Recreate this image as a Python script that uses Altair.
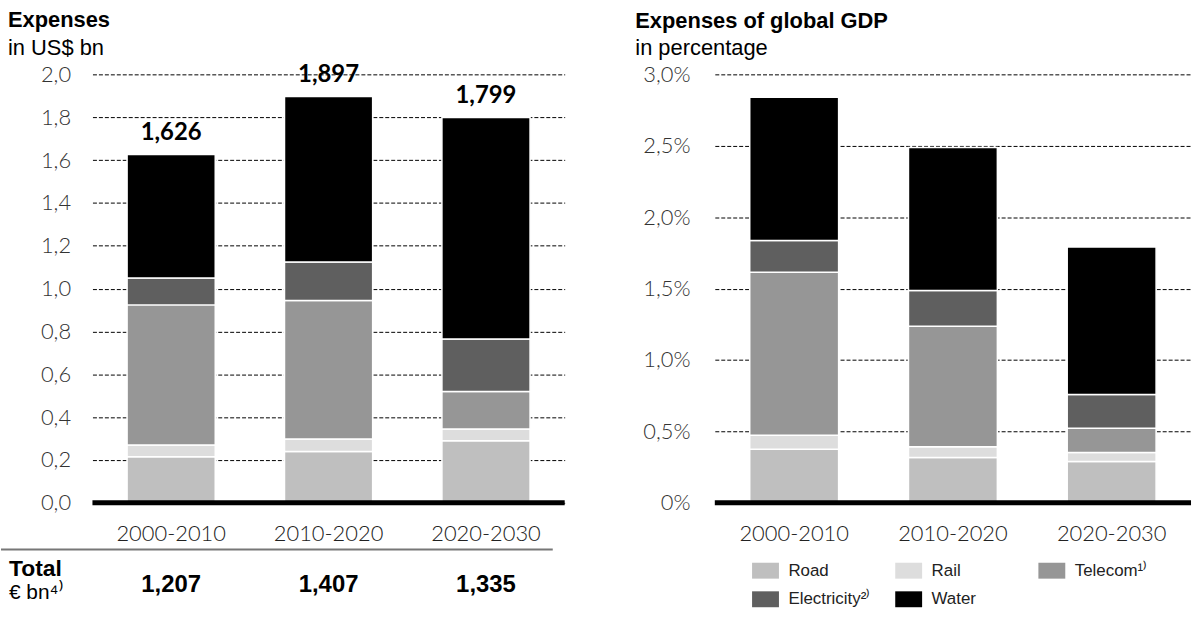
import altair as alt
import pandas as pd

periods = ["2000-2010", "2010-2020", "2020-2030"]
sectors = ["Road", "Rail", "Telecom¹⁾", "Electricity²⁾", "Water"]
colors = ["#bfbfbf", "#dddddd", "#969696", "#5f5f5f", "#000000"]

# Left panel: expenses (thousand US$ bn)
road_usd = [0.215, 0.240, 0.290]
rail_usd = [0.055, 0.058, 0.055]
telecom_usd = [0.654, 0.646, 0.175]
electricity_usd = [0.126, 0.180, 0.245]
water_usd = [0.576, 0.773, 1.034]
total_usd = [1.626, 1.897, 1.799]
total_usd_labels = ["1,626", "1,897", "1,799"]
total_eur_labels = ["1,207", "1,407", "1,335"]

# Right panel: expenses as % of global GDP
road_gdp = [0.376, 0.318, 0.290]
rail_gdp = [0.098, 0.075, 0.063]
telecom_gdp = [1.140, 0.843, 0.170]
electricity_gdp = [0.222, 0.250, 0.236]
water_gdp = [1.003, 1.002, 1.033]

left_ticks = [0, 0.2, 0.4, 0.6, 0.8, 1.0, 1.2, 1.4, 1.6, 1.8, 2.0]
right_ticks = [0, 0.5, 1.0, 1.5, 2.0, 2.5, 3.0]


def long_df(series):
    rows = []
    for s_idx, (name, vals) in enumerate(zip(sectors, series)):
        for p, v in zip(periods, vals):
            rows.append({"period": p, "sector": name, "idx": s_idx, "value": v})
    return pd.DataFrame(rows)


df_left = long_df([road_usd, rail_usd, telecom_usd, electricity_usd, water_usd])
df_right = long_df([road_gdp, rail_gdp, telecom_gdp, electricity_gdp, water_gdp])
df_tot = pd.DataFrame({"period": periods, "total": total_usd, "label": total_usd_labels,
                       "eur": total_eur_labels})

TICK_FONT = "Lato"
BOLD_FONT = "Liberation Sans"
W_L, W_R, H = 475, 479, 431

x_scale = alt.Scale(domain=periods, paddingInner=0.44, paddingOuter=0.22)
x_axis = alt.Axis(labelAngle=0, ticks=False, domain=False, labelFontSize=22,
                  labelFont=TICK_FONT, labelFontWeight=300, labelColor="#222",
                  labelPadding=21, grid=False)
color_scale = alt.Scale(domain=sectors, range=colors)

# ---------------- Left panel ----------------
y_left = alt.Y("value:Q", stack="zero", title=None,
               scale=alt.Scale(domain=[0, 2.0], nice=False),
               axis=alt.Axis(values=left_ticks, grid=True, gridColor="black", gridDash=[4, 2],
                             gridWidth=1, ticks=False, domain=False, labelFontSize=22,
                             labelFont=TICK_FONT, labelFontWeight=300, labelColor="#333",
                             labelPadding=22, minExtent=92, maxExtent=92,
                             labelExpr="replace(format(datum.value, '.1f'), '.', ',')"))

bars_l = alt.Chart(df_left).mark_bar(stroke="white", strokeWidth=1.5).encode(
    x=alt.X("period:N", sort=periods, title=None, scale=x_scale, axis=x_axis),
    y=y_left,
    color=alt.Color("sector:N", scale=color_scale, legend=None),
    order=alt.Order("idx:Q", sort="ascending"),
)

tot_l = alt.Chart(df_tot).mark_text(baseline="bottom", dy=-10, fontSize=24, fontWeight="bold",
                                    font=TICK_FONT, color="black").encode(
    x=alt.X("period:N", sort=periods),
    y=alt.Y("total:Q"),
    text="label:N",
)

zero_l = alt.Chart(pd.DataFrame({"v": [0]})).mark_rule(color="black", strokeWidth=5).encode(
    y="v:Q")

sep_line = alt.Chart(pd.DataFrame({"v": [0]})).mark_rule(color="#777", strokeWidth=2).encode(
    x=alt.value(-92), x2=alt.value(463), y=alt.value(478))

eur_vals = alt.Chart(df_tot).mark_text(fontSize=24, fontWeight="bold", font=BOLD_FONT,
                                       baseline="alphabetic", color="black").encode(
    x=alt.X("period:N", sort=periods),
    y=alt.value(521),
    text="eur:N",
)

total_lbl = alt.Chart(pd.DataFrame({"t": ["Total"]})).mark_text(
    align="left", baseline="alphabetic", fontSize=23, fontWeight="bold", font=BOLD_FONT,
    color="black").encode(x=alt.value(-84), y=alt.value(505), text="t:N")

eur_lbl = alt.Chart(pd.DataFrame({"t": ["€ bn⁴⁾"]})).mark_text(
    align="left", baseline="alphabetic", fontSize=21, font=BOLD_FONT, color="black").encode(
    x=alt.value(-84), y=alt.value(528), text="t:N")

left = alt.layer(bars_l, zero_l, tot_l, sep_line, eur_vals, total_lbl, eur_lbl).properties(
    width=W_L, height=H,
    title=alt.TitleParams(text="Expenses", subtitle="in US$ bn", anchor="start", frame="bounds",
                          font=BOLD_FONT, fontSize=22, fontWeight="bold", color="black",
                          subtitleFont=BOLD_FONT, subtitleFontSize=22, subtitleColor="black",
                          subtitlePadding=6, offset=3, dx=8),
)

# ---------------- Right panel ----------------
y_right = alt.Y("value:Q", stack="zero", title=None,
                scale=alt.Scale(domain=[0, 3.0], nice=False),
                axis=alt.Axis(values=right_ticks, grid=True, gridColor="black", gridDash=[4, 2],
                              gridWidth=1, ticks=False, domain=False, labelFontSize=22,
                              labelFont=TICK_FONT, labelFontWeight=300, labelColor="#333",
                              labelPadding=25, minExtent=80, maxExtent=80,
                              labelExpr="datum.value == 0 ? '0%' : replace(format(datum.value, '.1f'), '.', ',') + '%'"))

bars_r = alt.Chart(df_right).mark_bar(stroke="white", strokeWidth=1.5).encode(
    x=alt.X("period:N", sort=periods, title=None, scale=x_scale, axis=x_axis),
    y=y_right,
    color=alt.Color("sector:N", scale=color_scale, title=None,
                    legend=alt.Legend(orient="none", legendX=42.5, legendY=490.5, columns=3,
                                      direction="horizontal", gridAlign="all",
                                      symbolType="M-1.69,-1L1.69,-1L1.69,1L-1.69,1Z",
                                      symbolSize=256, symbolStrokeWidth=0, symbolOpacity=1,
                                      labelFont=BOLD_FONT, labelFontSize=17, labelColor="#222",
                                      labelOffset=14.5, rowPadding=11, columnPadding=24,
                                      padding=0, labelLimit=200)),
    order=alt.Order("idx:Q", sort="ascending"),
)

zero_r = alt.Chart(pd.DataFrame({"v": [0]})).mark_rule(color="black", strokeWidth=5).encode(
    y="v:Q")

right = alt.layer(bars_r, zero_r).properties(
    width=W_R, height=H,
    title=alt.TitleParams(text="Expenses of global GDP", subtitle="in percentage", anchor="start",
                          frame="bounds", font=BOLD_FONT, fontSize=22, fontWeight="bold",
                          color="black", subtitleFont=BOLD_FONT, subtitleFontSize=22,
                          subtitleColor="black", subtitlePadding=6, offset=3, dx=0),
)

chart = alt.hconcat(left, right, spacing=68).resolve_scale(color="independent").properties(
    padding={"left": 0, "top": 7, "right": 0, "bottom": 0}
).configure_view(stroke=None)

chart.save("out.html", embed_options={"renderer": "svg", "actions": False})
